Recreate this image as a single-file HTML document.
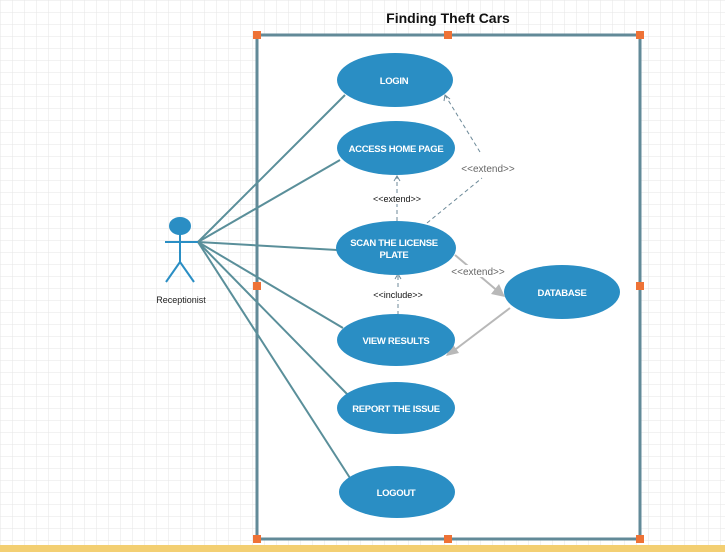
<!DOCTYPE html>
<html><head><meta charset="utf-8"><style>
html,body{margin:0;padding:0;background:#fff}
svg{display:block}
text{font-family:"Liberation Sans",sans-serif}
</style></head><body>
<svg width="725" height="552" viewBox="0 0 725 552" xmlns="http://www.w3.org/2000/svg">
<defs>
<pattern id="g" width="12" height="12" patternUnits="userSpaceOnUse">
<path d="M12 0H0V12" fill="none" stroke="#e6e6e6" stroke-width="1"/>
</pattern>
</defs>
<rect width="725" height="552" fill="#fff"/>
<rect width="725" height="552" fill="url(#g)"/>
<rect x="0" y="545" width="725" height="7" fill="#f3cf72"/>
<text x="448" y="23" font-size="14" font-weight="bold" text-anchor="middle" fill="#111">Finding Theft Cars</text>
<rect x="257" y="35" width="383" height="504" fill="#fff" stroke="#628a98" stroke-width="3"/>
<g fill="#ee7236">
<rect x="253" y="31" width="8" height="8"/><rect x="444" y="31" width="8" height="8"/><rect x="636" y="31" width="8" height="8"/>
<rect x="253" y="282" width="8" height="8"/><rect x="636" y="282" width="8" height="8"/>
<rect x="253" y="535" width="8" height="8"/><rect x="444" y="535" width="8" height="8"/><rect x="636" y="535" width="8" height="8"/>
</g>
<g stroke="#5a8f9a" stroke-width="2" fill="none">
<line x1="198" y1="242" x2="345" y2="95"/>
<line x1="198" y1="242" x2="340" y2="160"/>
<line x1="198" y1="242" x2="337" y2="250"/>
<line x1="198" y1="242" x2="343" y2="328"/>
<line x1="198" y1="242" x2="348" y2="395"/>
<line x1="198" y1="242" x2="350" y2="478"/>
</g>
<g stroke="#2a8ec4" stroke-width="2" fill="none">
<ellipse cx="180" cy="226" rx="10" ry="8" fill="#2a8ec4"/>
<line x1="180" y1="234" x2="180" y2="262"/>
<line x1="165" y1="242" x2="198" y2="242"/>
<line x1="180" y1="262" x2="166" y2="282"/>
<line x1="180" y1="262" x2="194" y2="282"/>
</g>
<text x="181" y="303" font-size="9" text-anchor="middle" fill="#222">Receptionist</text>
<g stroke="#6d8a99" stroke-width="1" fill="none" stroke-dasharray="4,3">
<line x1="397" y1="221" x2="397" y2="177"/>
<line x1="427" y1="223" x2="482" y2="178"/>
<line x1="480" y1="152" x2="445" y2="95"/>
<line x1="398" y1="315" x2="398" y2="275"/>
</g>
<g stroke="#6d8a99" stroke-width="1" fill="none">
<path d="M394 181 L397 176 L400 181"/>
<path d="M444 101 L445 95 L450 99"/>
<path d="M395 279 L398 274 L401 279"/>
</g>
<g stroke="#b8b8b8" stroke-width="2" fill="none">
<line x1="455" y1="255" x2="500" y2="293"/>
<line x1="510" y1="308" x2="452" y2="352"/>
</g>
<polygon points="505,297 491,294 499,284" fill="#b8b8b8"/>
<polygon points="446,356 452,343 459,353" fill="#b8b8b8"/>
<rect x="370" y="193" width="54" height="11" fill="#fff"/>
<text x="397" y="202" font-size="9" text-anchor="middle" fill="#111">&lt;&lt;extend&gt;&gt;</text>
<rect x="458" y="162" width="60" height="12" fill="#fff"/>
<text x="488" y="172" font-size="10" text-anchor="middle" fill="#666">&lt;&lt;extend&gt;&gt;</text>
<rect x="448" y="265" width="60" height="12" fill="#fff"/>
<text x="478" y="275" font-size="10" text-anchor="middle" fill="#666">&lt;&lt;extend&gt;&gt;</text>
<rect x="370" y="289" width="56" height="11" fill="#fff"/>
<text x="398" y="298" font-size="9" text-anchor="middle" fill="#111">&lt;&lt;include&gt;&gt;</text>
<g fill="#2a8ec4">
<ellipse cx="395" cy="80" rx="58" ry="27"/>
<ellipse cx="396" cy="148" rx="59" ry="27"/>
<ellipse cx="396" cy="248" rx="60" ry="27"/>
<ellipse cx="396" cy="340" rx="59" ry="26"/>
<ellipse cx="396" cy="408" rx="59" ry="26"/>
<ellipse cx="397" cy="492" rx="58" ry="26"/>
<ellipse cx="562" cy="292" rx="58" ry="27"/>
</g>
<g fill="#fff" font-size="9.5" font-weight="bold" letter-spacing="-0.3" text-anchor="middle">
<text x="394" y="84">LOGIN</text>
<text x="396" y="152">ACCESS HOME PAGE</text>
<text x="394" y="246">SCAN THE LICENSE</text>
<text x="394" y="258">PLATE</text>
<text x="396" y="344">VIEW RESULTS</text>
<text x="396" y="412">REPORT THE ISSUE</text>
<text x="396" y="496">LOGOUT</text>
<text x="562" y="296">DATABASE</text>
</g>
</svg>
</body></html>
